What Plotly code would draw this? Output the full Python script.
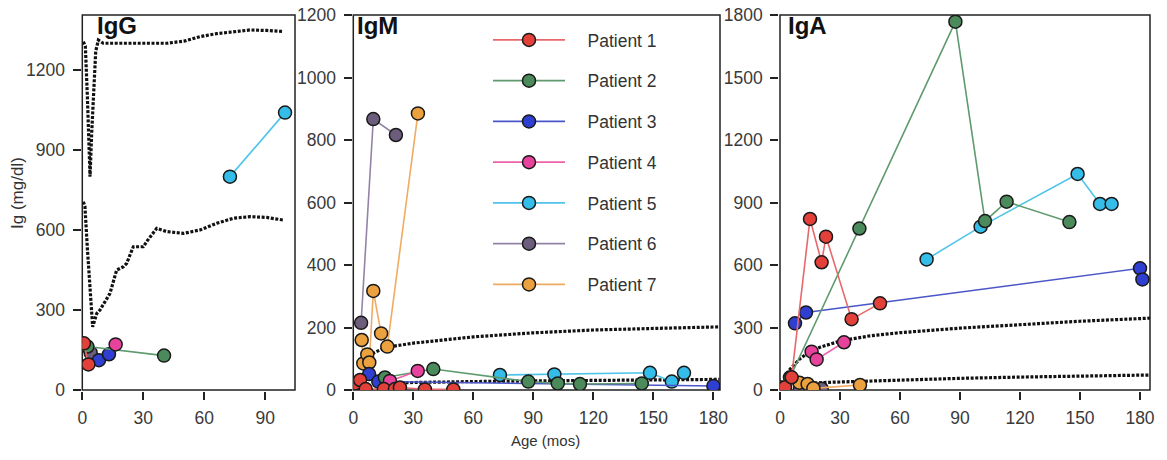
import plotly.graph_objects as go

# ---------------- data ----------------
patients = ["Patient 1", "Patient 2", "Patient 3", "Patient 4", "Patient 5", "Patient 6", "Patient 7"]
marker_colors = ["#e3403a", "#4b8a5b", "#2e3fd2", "#e8439c", "#34bde9", "#6c5d7d", "#eca13f"]
line_colors = ["#e8686a", "#5f9a6f", "#4b56c9", "#ee62aa", "#4fc4ea", "#9383a6", "#f0ab62"]

# IgG (age in months, value in mg/dl)
igg_age = {
    "Patient 1": [0.8, 3.0],
    "Patient 2": [2.5, 40.2],
    "Patient 3": [8.2, 13.1],
    "Patient 4": [16.4],
    "Patient 5": [72.6, 99.7],
    "Patient 6": [4.1],
    "Patient 7": [],
}
igg_val = {
    "Patient 1": [175, 96],
    "Patient 2": [163, 129],
    "Patient 3": [112, 134],
    "Patient 4": [171],
    "Patient 5": [800, 1040],
    "Patient 6": [140],
    "Patient 7": [],
}

# IgM
igm_age = {
    "Patient 1": [0.9, 3.4, 6.2, 15.3, 20.8, 23.3, 35.8, 50.0],
    "Patient 2": [15.8, 40.0, 87.5, 102.2, 113.3, 144.2],
    "Patient 3": [7.9, 12.5, 180.0],
    "Patient 4": [18.3, 32.2],
    "Patient 5": [73.3, 100.5, 148.3, 159.2, 165.3],
    "Patient 6": [3.9, 10.0, 21.3],
    "Patient 7": [4.2, 5.0, 7.0, 8.0, 10.0, 13.9, 17.0, 32.3],
}
igm_val = {
    "Patient 1": [21, 32, 3, 3, 3, 8, 2, 2],
    "Patient 2": [40, 67, 27, 21, 19, 21],
    "Patient 3": [51, 27, 13],
    "Patient 4": [29, 61],
    "Patient 5": [48, 50, 55, 27, 55],
    "Patient 6": [215, 867, 816],
    "Patient 7": [160, 85, 114, 88, 317, 181, 139, 885],
}

# IgA
iga_age = {
    "Patient 1": [0.0, 2.5, 5.8, 15.0, 20.8, 23.0, 35.8, 50.0],
    "Patient 2": [5.0, 39.7, 87.7, 102.5, 113.3, 144.7],
    "Patient 3": [7.5, 13.0, 180.0, 181.2],
    "Patient 4": [15.8, 18.3, 32.0],
    "Patient 5": [73.3, 100.3, 148.8, 160.0, 165.8],
    "Patient 6": [10.0, 20.8],
    "Patient 7": [9.7, 13.8, 16.7, 40.0],
}
iga_val = {
    "Patient 1": [13, 13, 61, 821, 613, 736, 340, 416],
    "Patient 2": [60, 775, 1768, 811, 904, 806],
    "Patient 3": [320, 372, 584, 531],
    "Patient 4": [184, 147, 229],
    "Patient 5": [627, 784, 1037, 893, 893],
    "Patient 6": [3, 6],
    "Patient 7": [35, 29, 8, 24],
}

# reference (normal range) curves
igg_hi_age = [0.5, 1.5, 2.5, 3.3, 3.8, 4.6, 5.6, 6.6, 7.9, 10.3, 20, 30, 41.5, 50, 57.9, 66, 74.3, 82.5, 90.7, 98.9]
igg_hi_val = [1306, 1290, 1100, 900, 800, 960, 1150, 1270, 1312, 1300, 1300, 1300, 1300, 1308, 1325, 1336, 1344, 1350, 1348, 1344]
igg_lo_age = [0.5, 1.3, 2.5, 3.8, 5.1, 7.1, 8.7, 13.6, 16.9, 20.2, 21.8, 25.1, 30.0, 32.0, 36.6, 41.5, 49.7, 57.9, 66.1, 74.3, 82.5, 90.7, 98.9]
igg_lo_val = [706, 688, 530, 360, 237, 287, 300, 362, 450, 462, 475, 537, 537, 560, 606, 594, 587, 600, 625, 644, 650, 647, 637]

igm_hi_age = [8, 10, 15, 20, 30, 45, 60, 90, 120, 150, 183]
igm_hi_val = [105, 118, 133, 140, 150, 160, 170, 183, 192, 197, 202]
igm_lo_age = [10, 30, 60, 90, 120, 150, 183]
igm_lo_val = [22, 25, 27, 29, 30, 32, 34]

iga_hi_age = [2, 5, 10, 15, 20, 30, 45, 60, 90, 120, 150, 185]
iga_hi_val = [60, 100, 150, 185, 205, 235, 260, 275, 297, 315, 330, 345]
iga_lo_age = [8, 15, 25, 40, 60, 90, 120, 150, 185]
iga_lo_val = [25, 32, 37, 42, 48, 56, 62, 67, 72]

# ---------------- figure ----------------
# page body has an 8px margin, so the figure is sized/placed to compensate
OFF = 8
W, H = 1167 - OFF, 460 - OFF
FONT = "Liberation Sans, Arial, Helvetica, sans-serif"


def fx(px):
    return (px - OFF) / W


def fy(py):
    return 1 - (py - OFF) / H


fig = go.Figure()

ref_style = dict(color="#111111", width=3.2, dash="3px,1.6px")
for xa, ya, ax in [(igg_hi_age, igg_hi_val, ""), (igg_lo_age, igg_lo_val, ""),
                   (igm_hi_age, igm_hi_val, "2"), (igm_lo_age, igm_lo_val, "2"),
                   (iga_hi_age, iga_hi_val, "3"), (iga_lo_age, iga_lo_val, "3")]:
    fig.add_trace(go.Scatter(
        x=xa, y=ya, mode="lines", line=ref_style, showlegend=False, hoverinfo="skip",
        xaxis="x" + ax, yaxis="y" + ax, zorder=0))

zorders = {"Patient 1": 7, "Patient 2": 5, "Patient 3": 4, "Patient 4": 6,
           "Patient 5": 3, "Patient 6": 1, "Patient 7": 2}

for i, p in enumerate(patients):
    for k, (ages, vals) in enumerate([(igg_age, igg_val), (igm_age, igm_val), (iga_age, iga_val)]):
        ax = "" if k == 0 else str(k + 1)
        fig.add_trace(go.Scatter(
            x=ages[p], y=vals[p], mode="lines+markers", name="\u2002\u2002" + p,
            legendgroup=p, showlegend=(k == 1),
            line=dict(color=line_colors[i], width=1.6),
            marker=dict(size=13, color=marker_colors[i], line=dict(color="#1a1a1a", width=1.5)),
            cliponaxis=False, zorder=zorders[p],
            xaxis="x" + ax, yaxis="y" + ax))

ydom = [fy(390), fy(15)]
common = dict(showline=True, mirror=True, linecolor="#222222", linewidth=1.5,
              ticks="outside", ticklen=8, tickwidth=1.5, tickcolor="#222222",
              showgrid=False, zeroline=False, automargin=False, ticklabeloverflow="allow",
              tickfont=dict(family=FONT, size=17.5, color="#3a3a3a"))
xcommon = dict(common, ticklabelstandoff=3)
ycommon = dict(common, ticklabelstandoff=4)

fig.update_layout(
    width=W, height=H,
    margin=dict(l=0, r=0, t=0, b=0, autoexpand=False),
    paper_bgcolor="white", plot_bgcolor="rgba(0,0,0,0)",
    font=dict(family=FONT, color="#333333"),
    xaxis=dict(domain=[fx(82.3), fx(295)], range=[0, 104.6], tickvals=[0, 30, 60, 90], anchor="y", **xcommon),
    yaxis=dict(domain=ydom, range=[0, 1406], tickvals=[0, 300, 600, 900, 1200], anchor="x", **ycommon),
    xaxis2=dict(domain=[fx(353.3), fx(720)], range=[0, 183.3], tickvals=[0, 30, 60, 90, 120, 150, 180], anchor="y2", **xcommon),
    yaxis2=dict(domain=ydom, range=[0, 1200], tickvals=[0, 200, 400, 600, 800, 1000, 1200], anchor="x2", **ycommon),
    xaxis3=dict(domain=[fx(780), fx(1150)], range=[0, 185], tickvals=[0, 30, 60, 90, 120, 150, 180], anchor="y3", **xcommon),
    yaxis3=dict(domain=ydom, range=[0, 1800], tickvals=[0, 300, 600, 900, 1200, 1500, 1800], anchor="x3", **ycommon),
    legend=dict(x=fx(488), y=fy(22), xanchor="left", yanchor="top",
                bgcolor="rgba(0,0,0,0)", font=dict(family=FONT, size=17.5, color="#333333"),
                traceorder="grouped", tracegroupgap=15, itemwidth=72),
    showlegend=True,
)

# panel frames
for ax in ["", "2", "3"]:
    fig.add_shape(type="rect", xref="x" + ax + " domain", yref="y" + ax + " domain",
                  x0=0, x1=1, y0=0, y1=1, line=dict(color="#222222", width=1.5),
                  fillcolor="rgba(0,0,0,0)", layer="below")

title_font = dict(family=FONT, size=24, color="#111111")
for txt, xpx in [("<b>IgG</b>", 94.5), ("<b>IgM</b>", 354.5), ("<b>IgA</b>", 785.5)]:
    fig.add_annotation(text=txt, xref="paper", yref="paper", x=fx(xpx), y=fy(10),
                       xanchor="left", yanchor="top", showarrow=False, font=title_font)

fig.add_annotation(text="Ig (mg/dl)", xref="paper", yref="paper", x=fx(17), y=fy(193),
                   xanchor="center", yanchor="middle", textangle=-90, showarrow=False,
                   font=dict(family=FONT, size=17, color="#333333"))
fig.add_annotation(text="Age (mos)", xref="paper", yref="paper", x=fx(545), y=fy(440),
                   xanchor="center", yanchor="middle", showarrow=False,
                   font=dict(family=FONT, size=15, color="#333333"))

fig.write_html("out.html")
